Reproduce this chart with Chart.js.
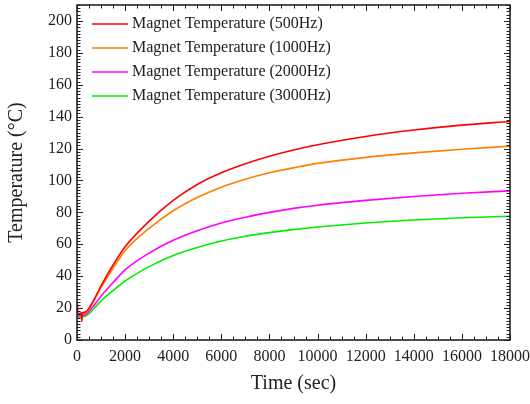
<!DOCTYPE html>
<html>
<head>
<meta charset="utf-8">
<script src="https://cdn.jsdelivr.net/npm/chart.js@4.4.0/dist/chart.umd.min.js"></script>
<style>
  html, body { margin: 0; padding: 0; background: #fff; }
  #wrap { width: 530px; height: 404px; }
</style>
</head>
<body>
<div id="wrap"><canvas id="tempChart" width="530" height="404"></canvas></div>
<script>
// Data (time in sec, temperature in degC)
const times = [0, 20, 40, 180, 200, 220, 350, 500, 750, 1000, 1500, 2000, 3000, 4000, 5000, 6000, 7000, 8000, 9000, 10000, 12000, 14000, 16000, 18000];
const temp500 = [16, 22.5, 16, 17, 11.5, 17, 17.5, 20, 26.5, 34, 47, 58.5, 74.5, 87.5, 97.5, 104.8, 110.5, 115.2, 119.1, 122.4, 127.6, 131.6, 134.7, 137];
const temp1000 = [16, 16, 16, 16.5, 16.5, 16.5, 17, 19.5, 26, 33, 45, 56, 70, 81, 89.3, 95.8, 100.8, 104.8, 107.9, 110.7, 114.5, 117.3, 119.6, 121.5];
const temp2000 = [15, 15, 15, 15.5, 15.5, 15.5, 16, 18, 22.5, 27.5, 36, 44, 54.5, 62.5, 68.5, 73.3, 77, 80, 82.5, 84.5, 87.5, 90, 92, 93.5];
const temp3000 = [14, 14, 14, 14.5, 14.5, 14.5, 15, 16.5, 20.5, 24.5, 31, 37, 46, 53, 58, 62, 65, 67.3, 69.2, 70.8, 73.3, 75.2, 76.6, 77.6];
const seriesLabels = ['Magnet Temperature (500Hz)', 'Magnet Temperature (1000Hz)', 'Magnet Temperature (2000Hz)', 'Magnet Temperature (3000Hz)'];
const seriesColors = ['#ff0000', '#ff8000', '#ff00ff', '#00ee00'];
const xTicks = [0, 2000, 4000, 6000, 8000, 10000, 12000, 14000, 16000, 18000];
const yTicks = [0, 20, 40, 60, 80, 100, 120, 140, 160, 180, 200];

const FONT = "'Liberation Serif', 'Times New Roman', serif";
const INK = '#222';

function toPoints(vals) {
    return times.map((t, i) => ({ x: t, y: vals[i] }));
}

// keep the plot box where the reference has it: no extra margin for edge labels
function noEdgePadding(s) {
    s.paddingLeft = 0;
    s.paddingRight = 0;
    s.paddingTop = 0;
    s.paddingBottom = 0;
}

const allSeries = [temp500, temp1000, temp2000, temp3000];
const datasets = allSeries.map((vals, i) => ({
    label: seriesLabels[i],
    data: toPoints(vals),
    borderColor: seriesColors[i],
    borderWidth: 1.6,
    pointRadius: 0,
    cubicInterpolationMode: 'monotone',
    fill: false
}));

// frame + inward ticks on all four sides
const frameTicks = {
    id: 'frameTicks',
    afterDraw(chart) {
        const { ctx, chartArea: a, scales } = chart;
        const xs = scales.x, ys = scales.y;
        ctx.save();
        ctx.strokeStyle = INK;
        ctx.lineWidth = 1;
        ctx.beginPath();
        for (let v = 0; v <= 18000; v += 500) {
            const px = Math.round(xs.getPixelForValue(v)) + 0.5;
            const len = v % 2000 === 0 ? 6 : 3.5;
            ctx.moveTo(px, a.bottom); ctx.lineTo(px, a.bottom - len);
            ctx.moveTo(px, a.top); ctx.lineTo(px, a.top + len);
        }
        for (let v = 0; v <= 210; v += 2) {
            const py = Math.round(ys.getPixelForValue(v)) + 0.5;
            const len = v % 20 === 0 ? 6 : 3.5;
            ctx.moveTo(a.left, py); ctx.lineTo(a.left + len, py);
            ctx.moveTo(a.right, py); ctx.lineTo(a.right - len, py);
        }
        ctx.stroke();
        ctx.lineWidth = 1.6;
        ctx.strokeRect(a.left, a.top, a.right - a.left, a.bottom - a.top);
        ctx.restore();
    }
};

// legend drawn inside the plot, top-left
const innerLegend = {
    id: 'innerLegend',
    afterDraw(chart) {
        const { ctx, chartArea: a } = chart;
        ctx.save();
        ctx.font = '16px ' + FONT;
        ctx.textBaseline = 'middle';
        ctx.fillStyle = INK;
        chart.data.datasets.forEach((ds, i) => {
            const y = a.top + 19 + i * 24;
            ctx.strokeStyle = ds.borderColor;
            ctx.lineWidth = 1.6;
            ctx.beginPath();
            ctx.moveTo(a.left + 15, y);
            ctx.lineTo(a.left + 51, y);
            ctx.stroke();
            ctx.fillText(ds.label, a.left + 55, y);
        });
        ctx.restore();
    }
};

const ctx = document.getElementById('tempChart').getContext('2d');
const chart = new Chart(ctx, {
    type: 'line',
    data: { datasets: datasets },
    plugins: [frameTicks, innerLegend],
    options: {
        responsive: false,
        animation: false,
        layout: { padding: { left: 0, right: 20, top: 5, bottom: 0 } },
        plugins: {
            legend: { display: false },
            tooltip: { enabled: false }
        },
        scales: {
            x: {
                type: 'linear',
                min: 0,
                max: 18000,
                grid: { display: false, drawTicks: false },
                border: { display: false },
                afterBuildTicks: s => { s.ticks = xTicks.map(v => ({ value: v })); },
                afterFit: s => { s.height = 64; noEdgePadding(s); },
                ticks: {
                    autoSkip: false,
                    maxRotation: 0,
                    padding: 7,
                    color: INK,
                    font: { family: FONT, size: 16 },
                    callback: v => String(v)
                },
                title: {
                    display: true,
                    text: 'Time (sec)',
                    color: INK,
                    font: { family: FONT, size: 20 },
                    padding: { top: 8, bottom: 8 }
                }
            },
            y: {
                min: 0,
                max: 210,
                grid: { display: false, drawTicks: false },
                border: { display: false },
                afterBuildTicks: s => { s.ticks = yTicks.map(v => ({ value: v })); },
                afterFit: s => { s.width = 77; noEdgePadding(s); },
                ticks: {
                    padding: 5,
                    color: INK,
                    font: { family: FONT, size: 16 }
                },
                title: {
                    display: true,
                    text: 'Temperature (°C)',
                    color: INK,
                    font: { family: FONT, size: 20 },
                    padding: { top: 5, bottom: 5 }
                }
            }
        }
    }
});
</script>
</body>
</html>
